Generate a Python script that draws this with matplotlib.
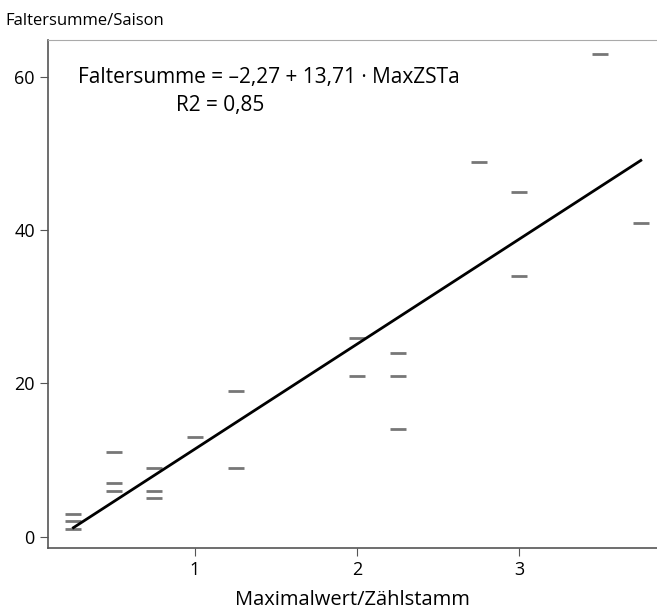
import matplotlib
matplotlib.use("Agg")
import matplotlib.pyplot as plt
import numpy as np

plt.rcParams["font.family"] = ["Open Sans", "DejaVu Sans"]

# observations: MaxZSTa vs Faltersumme
max_zsta = [0.25, 0.25, 0.25, 0.5, 0.5, 0.5, 0.75, 0.75, 0.75, 1.0, 1.25, 1.25,
            2.0, 2.0, 2.25, 2.25, 2.25, 2.75, 3.0, 3.0, 3.5, 3.75]
faltersumme = [3, 2, 1, 11, 7, 6, 9, 6, 5, 13, 19, 9,
               26, 21, 24, 21, 14, 49, 45, 34, 63, 41]
intercept, slope = -2.27, 13.71
fit_range = [0.25, 3.75]

fig = plt.figure(figsize=(6.57, 6.13), dpi=100)
ax = fig.add_axes([0.073, 0.106, 0.927, 0.829])

xf = np.array(fit_range)
ax.plot(xf, intercept + slope * xf, color="black", lw=2, zorder=3)
ax.plot(max_zsta, faltersumme, ls="none", marker="_", ms=11, mew=2, color="#777777")

ax.set_xlim(0.093, 3.85)
ax.set_ylim(-1.5, 64.9)
ax.set_xticks([1, 2, 3])
ax.set_yticks([0, 20, 40, 60])
ax.tick_params(labelsize=13, length=6, color="#555555")
for s in ("left", "bottom"):
    ax.spines[s].set_color("#555555")
    ax.spines[s].set_linewidth(1.2)
ax.spines["top"].set_color("#aaaaaa")
ax.spines["right"].set_visible(False)

ax.set_xlabel("Maximalwert/Zählstamm", fontsize=14.5, labelpad=8)
fig.text(0.008, 0.965, "Faltersumme/Saison", fontsize=12, va="center")
ax.text(0.28, 60, "Faltersumme = \u20132,27 + 13,71 \u00b7 MaxZSTa", fontsize=15, va="center")
ax.text(0.88, 56.3, "R2 = 0,85", fontsize=15, va="center")

fig.savefig("out.png", dpi=100)
